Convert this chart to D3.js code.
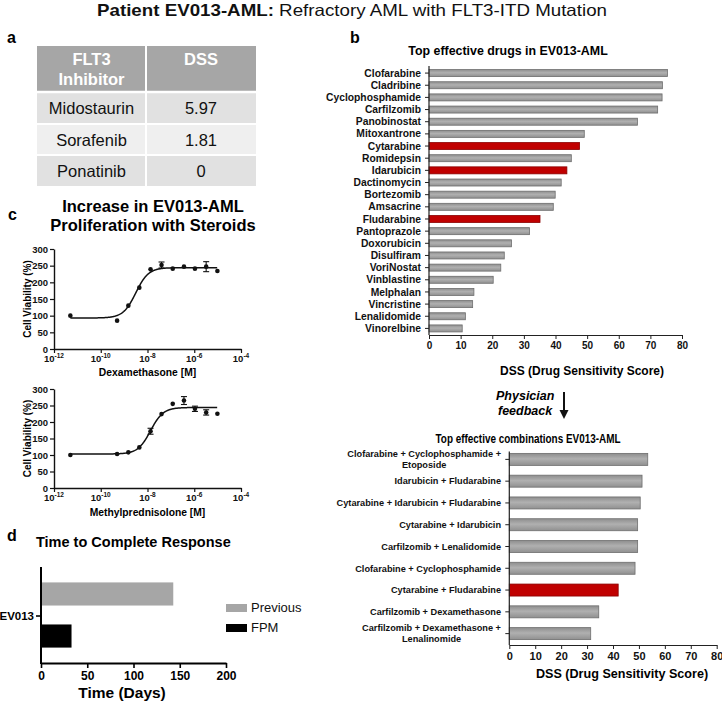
<!DOCTYPE html>
<html><head><meta charset="utf-8">
<script src="https://cdn.jsdelivr.net/npm/d3@7"></script>
<style>
body{margin:0;background:#fff}
svg{display:block;font-family:"Liberation Sans",Arial,Helvetica,sans-serif}
</style>
</head><body>
<svg id="chart" width="722" height="703"></svg>
<script>
// ---------------- DATA ----------------
const figTitleBold = "Patient EV013-AML:";
const figTitleRest = " Refractory AML with FLT3-ITD Mutation";

// panel a
const tableHeader = [["FLT3", "Inhibitor"], ["DSS"]];
const inhibitors = ["Midostaurin", "Sorafenib", "Ponatinib"];
const inhibitorDSS = ["5.97", "1.81", "0"];

// panel b (single drugs)
const drugs = ["Clofarabine","Cladribine","Cyclophosphamide","Carfilzomib","Panobinostat","Mitoxantrone","Cytarabine","Romidepsin","Idarubicin","Dactinomycin","Bortezomib","Amsacrine","Fludarabine","Pantoprazole","Doxorubicin","Disulfiram","VoriNostat","Vinblastine","Melphalan","Vincristine","Lenalidomide","Vinorelbine"];
const drugDSS = [75.4,73.8,73.7,72.3,65.9,49.1,47.6,45.0,43.6,41.8,39.9,39.3,35.1,31.8,26.1,23.8,22.7,20.3,14.2,13.8,11.5,10.5];
const drugHighlight = ["Cytarabine","Idarubicin","Fludarabine"];

// panel b (combinations)
const combos = ["Clofarabine + Cyclophosphamide + Etoposide","Idarubicin + Fludarabine","Cytarabine + Idarubicin + Fludarabine","Cytarabine + Idarubicin","Carfilzomib + Lenalidomide","Clofarabine + Cyclophosphamide","Cytarabine + Fludarabine","Carfilzomib + Dexamethasone","Carfilzomib + Dexamethasone + Lenalinomide"];
const comboLabelLines = [["Clofarabine + Cyclophosphamide +","Etoposide"],["Idarubicin + Fludarabine"],["Cytarabine + Idarubicin + Fludarabine"],["Cytarabine + Idarubicin"],["Carfilzomib + Lenalidomide"],["Clofarabine + Cyclophosphamide"],["Cytarabine + Fludarabine"],["Carfilzomib + Dexamethasone"],["Carfilzomib + Dexamethasone +","Lenalinomide"]];
const comboDSS = [53.4,51.2,50.5,49.5,49.5,48.5,42.0,34.5,31.4];
const comboHighlight = ["Cytarabine + Fludarabine"];
const dssTicks = [0,10,20,30,40,50,60,70,80];

// panel c (dose response), log10 molar concentration
const dexLogConc = [-11.3,-9.3,-8.82,-8.35,-7.87,-7.4,-6.92,-6.44,-5.97,-5.49,-5.01];
const dexViability = [100,85,130,184,239,252,241,247,241,247,234];
const dexError = [0,0,0,0,0,9,0,0,0,15,0];
const dexFit = [93, 244, -8.5, 1.6];          // bottom, top, logEC50, hill
const mpLogConc = [-11.3,-9.3,-8.82,-8.35,-7.87,-7.4,-6.92,-6.44,-5.97,-5.49,-5.01];
const mpViability = [100,103,108,123,172,224,255,265,240,229,225];
const mpError = [0,0,0,0,9,0,0,12,8,8,0];
const mpFit = [103, 244, -7.87, 1.6];
const viabilityTicks = [0,50,100,150,200,250,300];
const concTickExps = [-12,-10,-8,-6,-4];

// panel d
const responseGroups = ["Previous","FPM"];
const responseDays = [143, 33];
const responseTicks = [0,50,100,150,200];

// ---------------- DRAW ----------------
const svg = d3.select("#chart");
svg.append("rect").attr("width",722).attr("height",703).attr("fill","#fff");

// figure title
const tt = svg.append("text").attr("x",352).attr("y",16).attr("text-anchor","middle")
  .attr("font-size",16.5).attr("fill","#111").attr("textLength",510).attr("lengthAdjust","spacingAndGlyphs");
tt.append("tspan").attr("font-weight","bold").text(figTitleBold);
tt.append("tspan").text(figTitleRest);

// panel letters
[["a",7,43],["b",350,43],["c",8,220],["d",7,541]].forEach(([t,x,y])=>{
  svg.append("text").attr("x",x).attr("y",y).attr("font-size",16).attr("font-weight","bold").text(t);
});

// ---------- panel a: table ----------
(function(){
  const colX = [37,146,256];
  const rowY = [46,92,124,155,186];
  const g = svg.append("g");
  g.append("rect").attr("x",colX[0]).attr("y",rowY[0]).attr("width",colX[2]-colX[0]).attr("height",rowY[1]-rowY[0]).attr("fill","#a6a6a6");
  inhibitors.forEach((d,i)=>{
    g.append("rect").attr("x",colX[0]).attr("y",rowY[i+1]).attr("width",colX[2]-colX[0]).attr("height",rowY[i+2]-rowY[i+1])
      .attr("fill", i%2===0 ? "#e1e1e1" : "#efefef");
  });
  g.append("line").attr("x1",colX[1]).attr("x2",colX[1]).attr("y1",rowY[0]).attr("y2",rowY[4]).attr("stroke","#fff").attr("stroke-width",2);
  [1,2,3].forEach(i=>g.append("line").attr("x1",colX[0]).attr("x2",colX[2]).attr("y1",rowY[i]).attr("y2",rowY[i]).attr("stroke","#fff").attr("stroke-width",i===1?2.5:2));
  const cx = [(colX[0]+colX[1])/2,(colX[1]+colX[2])/2];
  tableHeader.forEach((lines,c)=>{
    lines.forEach((ln,k)=>{
      g.append("text").attr("x",cx[c]).attr("y",65+k*20).attr("text-anchor","middle").attr("font-size",16.5)
        .attr("font-weight","bold").attr("fill","#fff").text(ln);
    });
  });
  inhibitors.forEach((d,i)=>{
    const y = (rowY[i+1]+rowY[i+2])/2 + 6;
    g.append("text").attr("x",cx[0]).attr("y",y).attr("text-anchor","middle").attr("font-size",16.5).attr("fill","#111").text(d);
    g.append("text").attr("x",cx[1]).attr("y",y).attr("text-anchor","middle").attr("font-size",16.5).attr("fill","#111").text(inhibitorDSS[i]);
  });
})();

// ---------- panel b helpers ----------
function barChart(opts){
  const g = svg.append("g");
  const x = d3.scaleLinear().domain([0,80]).range(opts.xRange);
  const y = d3.scaleBand().domain(opts.cats).range(opts.yRange).paddingInner(opts.pad).paddingOuter(opts.pad/2);
  g.selectAll("rect.bar").data(opts.cats).join("rect").attr("class","bar")
    .attr("x",x(0)).attr("y",d=>y(d)+y.bandwidth()/2-opts.barH/2)
    .attr("width",(d,i)=>x(opts.vals[i])-x(0)).attr("height",opts.barH)
    .attr("fill",d=>opts.hl.includes(d)?"#c00000":"url(#grayGrad)")
    .attr("stroke",d=>opts.hl.includes(d)?"#8a0000":"#6e6e6e").attr("stroke-width",0.8);
  const yAxis = g.append("g").attr("transform",`translate(${x(0)},0)`);
  yAxis.append("line").attr("x1",0).attr("x2",0).attr("y1",opts.axisTop).attr("y2",opts.axisY).attr("stroke","#222").attr("stroke-width",1.2);
  opts.cats.forEach(d=>{
    const cy = y(d)+y.bandwidth()/2;
    yAxis.append("line").attr("x1",-4).attr("x2",0).attr("y1",cy).attr("y2",cy).attr("stroke","#222").attr("stroke-width",1);
  });
  const xAxis = g.append("g").attr("transform",`translate(0,${opts.axisY})`)
    .call(d3.axisBottom(x).tickValues(dssTicks).tickSize(4).tickPadding(3).tickSizeOuter(0));
  xAxis.select(".domain").attr("stroke","#222").attr("stroke-width",1.2);
  xAxis.selectAll(".tick line").attr("stroke","#222");
  xAxis.selectAll(".tick text").attr("font-size",opts.tickFont).attr("font-weight","bold").attr("fill","#111")
    .attr("font-family",'"Liberation Sans",Arial,sans-serif');
  return {g,x,y};
}

const defs = svg.append("defs");
const gg = defs.append("linearGradient").attr("id","grayGrad").attr("x1",0).attr("x2",0).attr("y1",0).attr("y2",1);
gg.append("stop").attr("offset","0%").attr("stop-color","#8e8e8e");
gg.append("stop").attr("offset","45%").attr("stop-color","#b0b0b0");
gg.append("stop").attr("offset","100%").attr("stop-color","#909090");

// top drugs
svg.append("text").attr("x",508).attr("y",55).attr("text-anchor","middle").attr("font-size",12.4).attr("font-weight","bold").text("Top effective drugs in EV013-AML");
const b1 = barChart({cats:drugs, vals:drugDSS, hl:drugHighlight, xRange:[429,682], yRange:[67,334.5], pad:0.42, barH:7, axisTop:66, axisY:335, tickFont:10});
drugs.forEach(d=>{
  b1.g.append("text").attr("x",421).attr("y",b1.y(d)+b1.y.bandwidth()/2+3.6).attr("text-anchor","end")
    .attr("font-size",10.3).attr("font-weight","bold").attr("fill","#111").text(d);
});
svg.append("text").attr("x",582).attr("y",375).attr("text-anchor","middle").attr("font-size",12).attr("font-weight","bold").text("DSS (Drug Sensitivity Score)");

// physician feedback
svg.append("text").attr("x",496).attr("y",400).attr("font-size",12.5).attr("font-weight","bold").attr("font-style","italic").text("Physician");
svg.append("text").attr("x",498).attr("y",415).attr("font-size",12.5).attr("font-weight","bold").attr("font-style","italic").text("feedback");
svg.append("line").attr("x1",564).attr("x2",564).attr("y1",392).attr("y2",411).attr("stroke","#111").attr("stroke-width",2);
svg.append("path").attr("d","M559.5,410 L568.5,410 L564,419 Z").attr("fill","#111");

// combinations
svg.append("text").attr("x",528).attr("y",443).attr("text-anchor","middle").attr("font-size",12.5).attr("font-weight","bold")
  .attr("textLength",185).attr("lengthAdjust","spacingAndGlyphs").text("Top effective combinations EV013-AML");
const b2 = barChart({cats:combos, vals:comboDSS, hl:comboHighlight, xRange:[509.3,716.7], yRange:[448.5,644.5], pad:0.45, barH:12, axisTop:451.5, axisY:645, tickFont:11});
combos.forEach((d,i)=>{
  const lines = comboLabelLines[i];
  const cy = b2.y(d)+b2.y.bandwidth()/2;
  if(lines.length===1){
    b2.g.append("text").attr("x",501).attr("y",cy+3.3).attr("text-anchor","end").attr("font-size",9.2).attr("font-weight","bold").attr("fill","#111").text(lines[0]);
  } else {
    const t1 = b2.g.append("text").attr("x",501).attr("y",cy-2.5).attr("text-anchor","end").attr("font-size",9.2).attr("font-weight","bold").attr("fill","#111").text(lines[0]);
    const w = t1.node().getComputedTextLength();
    b2.g.append("text").attr("x",501-w/2).attr("y",cy+8.5).attr("text-anchor","middle").attr("font-size",9.2).attr("font-weight","bold").attr("fill","#111").text(lines[1]);
  }
});
svg.append("text").attr("x",622).attr("y",678).attr("text-anchor","middle").attr("font-size",12.6).attr("font-weight","bold").text("DSS (Drug Sensitivity Score)");

// ---------- panel c ----------
svg.append("text").attr("x",153).attr("y",212).attr("text-anchor","middle").attr("font-size",16.5).attr("font-weight","bold").text("Increase in EV013-AML");
svg.append("text").attr("x",153).attr("y",231).attr("text-anchor","middle").attr("font-size",16.5).attr("font-weight","bold").text("Proliferation with Steroids");

function doseChart(top, bottom, logC, viab, err, fit, xlabel, labelY){
  const g = svg.append("g");
  const x = d3.scaleLinear().domain([-12,-4]).range([54,241]);
  const y = d3.scaleLinear().domain([0,300]).range([bottom,top]);
  const ya = g.append("g").attr("transform","translate(54,0)").call(d3.axisLeft(y).tickValues(viabilityTicks).tickSize(4).tickPadding(2).tickSizeOuter(0));
  const xa = g.append("g").attr("transform",`translate(0,${bottom})`).call(d3.axisBottom(x).tickValues(concTickExps).tickSize(4).tickPadding(4).tickSizeOuter(0).tickFormat(""));
  [ya,xa].forEach(a=>{
    a.select(".domain").attr("stroke","#111").attr("stroke-width",1.4);
    a.selectAll(".tick line").attr("stroke","#111").attr("stroke-width",1.2);
  });
  ya.selectAll(".tick text").attr("font-size",9.5).attr("font-weight","bold").attr("fill","#111").attr("font-family",'"Liberation Sans",Arial,sans-serif');
  concTickExps.forEach(e=>{
    const t = g.append("text").attr("x",x(e)).attr("y",bottom+13).attr("text-anchor","middle").attr("font-size",9.5).attr("font-weight","bold").attr("fill","#111");
    t.append("tspan").text("10");
    t.append("tspan").attr("dy",-4).attr("font-size",6.5).text(String(e));
  });
  g.append("text").attr("x",(54+241)/2).attr("y",labelY).attr("text-anchor","middle").attr("font-size",10.3).attr("font-weight","bold").text(xlabel);
  g.append("text").attr("transform",`translate(31,${(top+bottom)/2}) rotate(-90)`).attr("text-anchor","middle").attr("font-size",10).attr("font-weight","bold").text("Cell Viability (%)");
  const [bt,tp,ec,h] = fit;
  const xs = d3.range(logC[0], logC[logC.length-1]+0.001, 0.02);
  g.append("path").datum(xs).attr("fill","none").attr("stroke","#111").attr("stroke-width",1.5)
    .attr("d", d3.line().x(v=>x(v)).y(v=>y(bt + (tp-bt)/(1+Math.pow(10,(ec-v)*h)))));
  logC.forEach((c,i)=>{
    if(err[i]>0){
      const px = x(c);
      g.append("line").attr("x1",px).attr("x2",px).attr("y1",y(viab[i]-err[i])).attr("y2",y(viab[i]+err[i])).attr("stroke","#111").attr("stroke-width",1.1);
      [viab[i]-err[i], viab[i]+err[i]].forEach(v=>g.append("line").attr("x1",px-3).attr("x2",px+3).attr("y1",y(v)).attr("y2",y(v)).attr("stroke","#111").attr("stroke-width",1.1));
    }
  });
  g.selectAll("circle").data(logC).join("circle").attr("cx",d=>x(d)).attr("cy",(d,i)=>y(viab[i])).attr("r",2.3).attr("fill","#111");
}
doseChart(249, 349, dexLogConc, dexViability, dexError, dexFit, "Dexamethasone [M]", 376);
doseChart(389, 488, mpLogConc, mpViability, mpError, mpFit, "Methylprednisolone [M]", 516);

// ---------- panel d ----------
(function(){
  svg.append("text").attr("x",36).attr("y",547).attr("font-size",14.5).attr("font-weight","bold").text("Time to Complete Response");
  const g = svg.append("g");
  const x = d3.scaleLinear().domain([0,200]).range([41,226]);
  const y = d3.scaleBand().domain(responseGroups).range([574,656]).paddingInner(0.45).paddingOuter(0.2);
  g.selectAll("rect").data(responseGroups).join("rect")
    .attr("x",x(0)).attr("y",d=>y(d)).attr("height",y.bandwidth())
    .attr("width",(d,i)=>x(responseDays[i])-x(0))
    .attr("fill",(d,i)=>i===0?"#a6a6a6":"#000");
  const xa = g.append("g").attr("transform","translate(0,663)").call(d3.axisBottom(x).tickValues(responseTicks).tickSize(5).tickPadding(3).tickSizeOuter(0));
  xa.select(".domain").attr("stroke","#000").attr("stroke-width",2);
  xa.selectAll(".tick line").attr("stroke","#000").attr("stroke-width",1.6);
  xa.selectAll(".tick text").attr("font-size",12).attr("font-weight","bold").attr("fill","#000").attr("font-family",'"Liberation Sans",Arial,sans-serif');
  g.append("line").attr("x1",x(0)).attr("x2",x(0)).attr("y1",567).attr("y2",664).attr("stroke","#000").attr("stroke-width",2);
  g.append("line").attr("x1",x(0)-5).attr("x2",x(0)).attr("y1",616).attr("y2",616).attr("stroke","#000").attr("stroke-width",1.6);
  g.append("text").attr("x",34).attr("y",620).attr("text-anchor","end").attr("font-size",11.5).attr("font-weight","bold").text("EV013");
  g.append("text").attr("x",122).attr("y",698).attr("text-anchor","middle").attr("font-size",15.5).attr("font-weight","bold").text("Time (Days)");
  responseGroups.forEach((d,i)=>{
    g.append("rect").attr("x",226).attr("y",604+i*20).attr("width",21).attr("height",8).attr("fill",i===0?"#a6a6a6":"#000");
    g.append("text").attr("x",251).attr("y",612+i*20).attr("font-size",13).attr("fill","#111").text(d);
  });
})();
</script>
</body></html>
